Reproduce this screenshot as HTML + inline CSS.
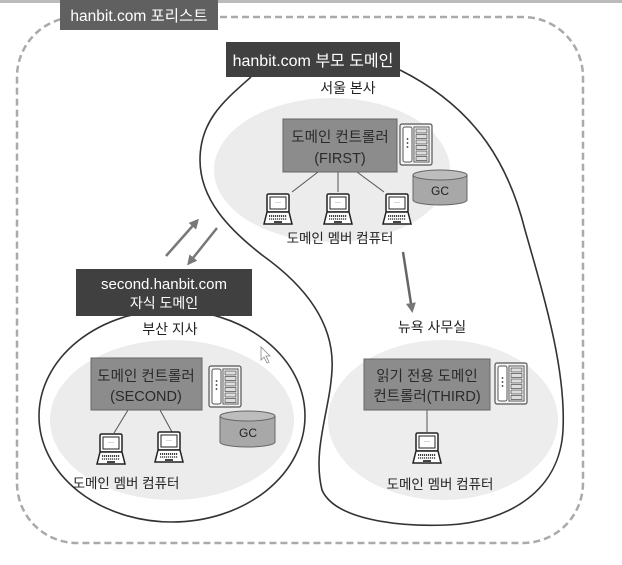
<!DOCTYPE html>
<html><head><meta charset="utf-8"><style>
html,body{margin:0;padding:0;background:#fff;}
svg text{font-family:"Liberation Sans","Noto Sans CJK KR",sans-serif;}
</style></head><body>
<svg width="622" height="560" viewBox="0 0 622 560" xmlns="http://www.w3.org/2000/svg">
<defs>
<marker id="ah" markerWidth="10" markerHeight="10" refX="7" refY="5" orient="auto" markerUnits="userSpaceOnUse"><path d="M0,0 L10,5 L0,10 Z" fill="#777"/></marker>
<g id="lap">
<rect x="3" y="0" width="22" height="18" rx="1.5" fill="#fff" stroke="#222" stroke-width="1.5"/>
<rect x="6" y="3" width="16" height="12" fill="#fff" stroke="#222" stroke-width="1"/>
<text x="14" y="10" font-size="6" text-anchor="middle" fill="#222">···</text>
<path d="M3,18 L0,30 L28,30 L25,18 Z" fill="#fff" stroke="#222" stroke-width="1.5"/>
<line x1="5" y1="22" x2="23" y2="22" stroke="#444" stroke-width="2" stroke-dasharray="1.2,0.8"/>
<line x1="5" y1="25" x2="23" y2="25" stroke="#444" stroke-width="1.5" stroke-dasharray="1.2,0.8"/>
<rect x="10" y="27" width="8" height="2" fill="#444"/>
</g>
<g id="srv">
<rect x="0" y="0" width="32" height="41" rx="2" fill="#f4f4f4" stroke="#555" stroke-width="1.2"/>
<rect x="3" y="3" width="9" height="35" rx="2" fill="#fff" stroke="#555"/>
<circle cx="7.5" cy="15" r="0.9" fill="#333"/><circle cx="7.5" cy="19" r="0.9" fill="#333"/><circle cx="7.5" cy="23" r="0.9" fill="#333"/>
<rect x="14" y="3" width="15" height="35" fill="#fff" stroke="#555"/>
<g fill="#ddd" stroke="#444" stroke-width="0.7">
<rect x="16" y="5" width="11" height="4"/><rect x="16" y="10.5" width="11" height="4"/><rect x="16" y="16" width="11" height="4"/><rect x="16" y="21.5" width="11" height="4"/><rect x="16" y="27" width="11" height="4"/><rect x="16" y="32.5" width="11" height="4"/>
</g>
</g>
</defs>
<rect x="0" y="0" width="622" height="3" fill="#bbb"/>
<!-- forest -->
<rect x="17" y="17" width="566" height="526" rx="60" fill="none" stroke="#aaa" stroke-width="2.5" stroke-dasharray="7,4"/>
<rect x="60" y="0" width="158" height="30" fill="#606060"/>
<text x="139" y="21" font-size="15.5" fill="#fff" text-anchor="middle">hanbit.com 포리스트</text>

<!-- gray fills -->
<ellipse cx="332" cy="170" rx="118" ry="72" fill="#ececec"/>
<ellipse cx="172" cy="420" rx="122" ry="80" fill="#ececec"/>
<ellipse cx="443" cy="420" rx="115" ry="80" fill="#ededed"/>

<!-- parent blob -->
<path d="M251,77 C225,100 200,120 200,160 C200,200 230,230 262,255 C300,282 335,320 332,370 C330,410 312,450 322,490 C335,520 400,527 447,525 C510,522 560,490 563,430 C566,370 545,300 525,230 C510,170 480,110 400,70" fill="none" stroke="#333" stroke-width="1.6"/>
<!-- child ellipse -->
<ellipse cx="172" cy="416" rx="133" ry="106" fill="none" stroke="#333" stroke-width="1.6"/>

<rect x="226" y="42" width="174" height="35" fill="#404040"/>
<text x="313" y="66" font-size="16" fill="#fff" text-anchor="middle">hanbit.com 부모 도메인</text>
<text x="348" y="93" font-size="14" fill="#222" text-anchor="middle">서울 본사</text>

<rect x="76" y="269" width="176" height="47" fill="#404040"/>
<text x="164" y="289" font-size="15" fill="#fff" text-anchor="middle">second.hanbit.com</text>
<text x="164" y="308" font-size="14" fill="#fff" text-anchor="middle">자식 도메인</text>
<text x="170" y="334" font-size="14" fill="#222" text-anchor="middle">부산 지사</text>
<text x="432" y="332" font-size="14" fill="#222" text-anchor="middle">뉴욕 사무실</text>

<!-- arrows -->
<line x1="166" y1="256" x2="197" y2="221" stroke="#777" stroke-width="2.5" marker-end="url(#ah)"/>
<line x1="217" y1="228" x2="189" y2="263" stroke="#777" stroke-width="2.5" marker-end="url(#ah)"/>
<line x1="403" y1="252" x2="412" y2="310" stroke="#666" stroke-width="2.5" marker-end="url(#ah)"/>

<!-- FIRST -->
<line x1="318" y1="172" x2="292" y2="192" stroke="#555"/><line x1="338" y1="172" x2="338" y2="192" stroke="#555"/><line x1="357" y1="172" x2="384" y2="192" stroke="#555"/>
<rect x="283" y="119" width="114" height="53" fill="#8c8c8c" stroke="#666"/>
<text x="340" y="142" font-size="14.5" fill="#2a2a2a" text-anchor="middle">도메인 컨트롤러</text>
<text x="340" y="163" font-size="14.5" fill="#2a2a2a" text-anchor="middle">(FIRST)</text>
<use href="#srv" x="400" y="124"/>
<path d="M413,175 L413,200 A27,5 0 0 0 467,200 L467,175" fill="#a8a8a8" stroke="#666"/>
<ellipse cx="440" cy="175" rx="27" ry="5" fill="#bdbdbd" stroke="#666"/>
<text x="440" y="195" font-size="12" fill="#222" text-anchor="middle">GC</text>
<use href="#lap" x="264" y="194"/><use href="#lap" x="324" y="194"/><use href="#lap" x="383" y="194"/>
<text x="340" y="243" font-size="13.5" fill="#222" text-anchor="middle">도메인 멤버 컴퓨터</text>

<!-- SECOND -->
<line x1="128" y1="410" x2="114" y2="433" stroke="#555"/><line x1="160" y1="410" x2="172" y2="432" stroke="#555"/>
<rect x="91" y="358" width="111" height="52" fill="#8c8c8c" stroke="#666"/>
<text x="146" y="381" font-size="14.5" fill="#2a2a2a" text-anchor="middle">도메인 컨트롤러</text>
<text x="146" y="401" font-size="14.5" fill="#2a2a2a" text-anchor="middle">(SECOND)</text>
<use href="#srv" x="209" y="366"/>
<path d="M220,416 L220,442 A27.5,5 0 0 0 275,442 L275,416" fill="#a8a8a8" stroke="#666"/>
<ellipse cx="247.5" cy="416" rx="27.5" ry="5" fill="#bdbdbd" stroke="#666"/>
<text x="248" y="437" font-size="12" fill="#222" text-anchor="middle">GC</text>
<use href="#lap" x="97" y="434"/><use href="#lap" x="155" y="432"/>
<text x="126" y="488" font-size="13.5" fill="#222" text-anchor="middle">도메인 멤버 컴퓨터</text>

<!-- THIRD -->
<line x1="427" y1="410" x2="427" y2="432" stroke="#555"/>
<rect x="364" y="359" width="126" height="51" fill="#8c8c8c" stroke="#666"/>
<text x="427" y="381" font-size="14.5" fill="#2a2a2a" text-anchor="middle">읽기 전용 도메인</text>
<text x="427" y="401" font-size="14.5" fill="#2a2a2a" text-anchor="middle">컨트롤러(THIRD)</text>
<use href="#srv" x="495" y="363"/>
<use href="#lap" x="413" y="433"/>
<text x="440" y="489" font-size="13.5" fill="#222" text-anchor="middle">도메인 멤버 컴퓨터</text>

<path d="M261,347 L261,360 L264,357 L267,363 L269,362 L266,356 L270,356 Z" fill="#fff" stroke="#888" stroke-width="0.8"/>
</svg>
</body></html>
